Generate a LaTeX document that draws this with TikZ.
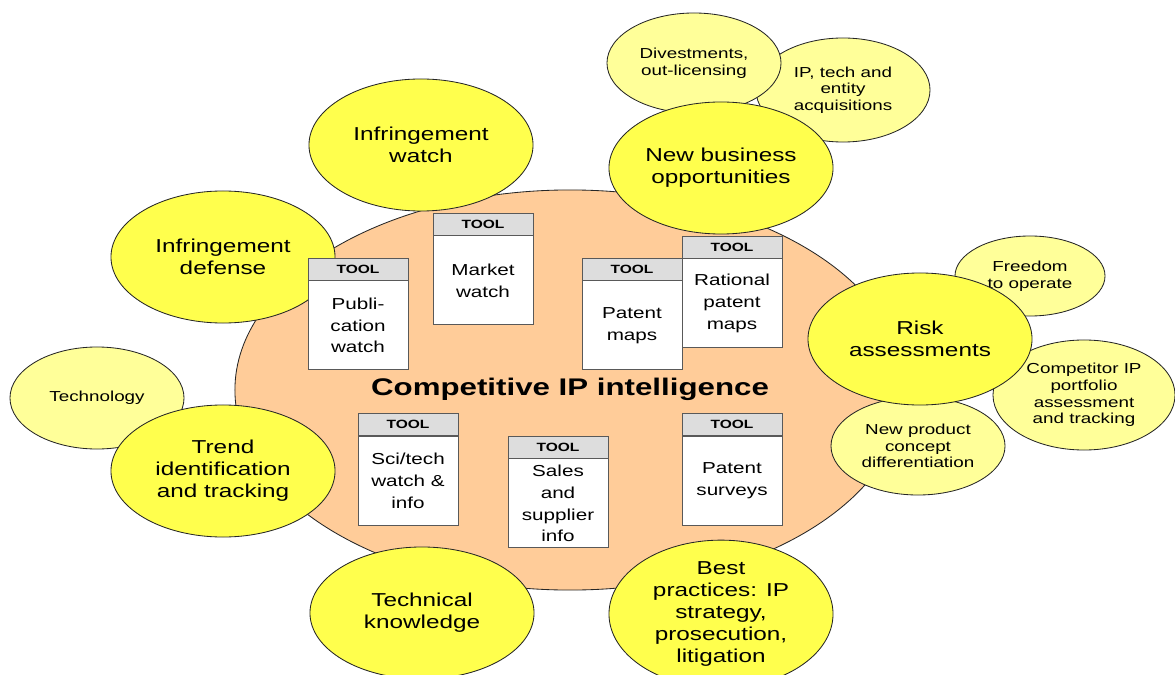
\documentclass[tikz,border=0pt]{standalone}
\usepackage{fontspec}
\setmainfont{Liberation Sans}[FakeStretch=1.3]
\usetikzlibrary{shapes.geometric,positioning}
\definecolor{peach}{RGB}{255,204,153}
\definecolor{bigyellow}{RGB}{255,255,77}
\definecolor{paleyellow}{RGB}{255,255,153}
\definecolor{headgray}{RGB}{221,221,221}
\tikzset{
  big/.style={ellipse,draw=black!85,fill=bigyellow,line width=0.6pt,minimum width=5.6cm,minimum height=3.3cm,inner sep=0pt,align=center,font=\fontsize{13.3}{15.6}\selectfont},
  small/.style={ellipse,draw=black!85,fill=paleyellow,line width=0.6pt,inner sep=0pt,align=center,font=\fontsize{10.3}{11.8}\selectfont},
  toolhead/.style={draw=black!65,fill=headgray,line width=0.6pt,minimum width=2.5cm,minimum height=0.55cm,inner sep=0pt,font=\fontsize{8.5}{10}\selectfont\bfseries},
  toolbody/.style={draw=black!65,fill=white,line width=0.6pt,minimum width=2.5cm,minimum height=2.225cm,inner sep=0pt,align=center,font=\fontsize{11.3}{15.6}\selectfont},
}
\begin{document}
\begin{tikzpicture}[x=0.025cm,y=-0.025cm]
\useasboundingbox (0,0) rectangle (1175,675);

\node[ellipse,draw=black!85,fill=peach,line width=0.6pt,minimum width=16.75cm,minimum height=10cm] (core) at (570,390) {};

\node[small,minimum width=4.35cm,minimum height=2.6cm] (acq) at (843,90) {IP, tech and\\entity\\acquisitions};
\node[small,minimum width=4.35cm,minimum height=2.5cm] (divest) at (694,63) {Divestments,\\out-licensing};
\node[small,minimum width=3.75cm,minimum height=2cm] (freedom) at (1030,276) {Freedom\\to operate};
\node[small,minimum width=4.55cm,minimum height=2.75cm] (competitor) at (1084,395) {Competitor IP\\portfolio\\assessment\\and tracking};
\node[small,minimum width=4.35cm,minimum height=2.45cm] (product) at (918,446) {New product\\concept\\differentiation};
\node[small,minimum width=4.35cm,minimum height=2.55cm] (technology) at (97,398) {Technology};

\node[big] (watch) at (421,145) {Infringement\\watch};
\node[big] (defense) at (223,257) {Infringement\\defense};
\node[big] (newbiz) at (721,168) {New business\\opportunities};
\node[big] (risk) at (920,339) {Risk\\assessments};
\node[big] (trend) at (223,471) {Trend\\identification\\and tracking};
\node[big] (knowledge) at (422,613) {Technical\\knowledge};
\node[big,minimum height=3.4cm] (best) at (721,614) {Best\\practices: IP\\strategy,\\prosecution,\\litigation};

\node[toolhead] (pubhead) at (358,269) {TOOL};
\node[toolbody,below=0pt of pubhead] (pub) {Publi-\\cation\\watch};
\node[toolhead] (markethead) at (483,224) {TOOL};
\node[toolbody,below=0pt of markethead] (market) {Market\\watch};
\node[toolhead] (mapshead) at (632,269) {TOOL};
\node[toolbody,below=0pt of mapshead] (maps) {Patent\\maps};
\node[toolhead] (rationalhead) at (732,247) {TOOL};
\node[toolbody,below=0pt of rationalhead] (rational) {Rational\\patent\\maps};
\node[toolhead] (scitechhead) at (408,424.5) {TOOL};
\node[toolbody,below=0pt of scitechhead] (scitech) {Sci/tech\\watch \&\\info};
\node[toolhead] (saleshead) at (558,447) {TOOL};
\node[toolbody,below=0pt of saleshead] (sales) {Sales\\and\\supplier\\info};
\node[toolhead] (surveyshead) at (732,424.5) {TOOL};
\node[toolbody,below=0pt of surveyshead] (surveys) {Patent\\surveys};

\node[font=\fontsize{17.1}{20}\selectfont\bfseries] (title) at (570,389) {Competitive IP intelligence};
\end{tikzpicture}
\end{document}
